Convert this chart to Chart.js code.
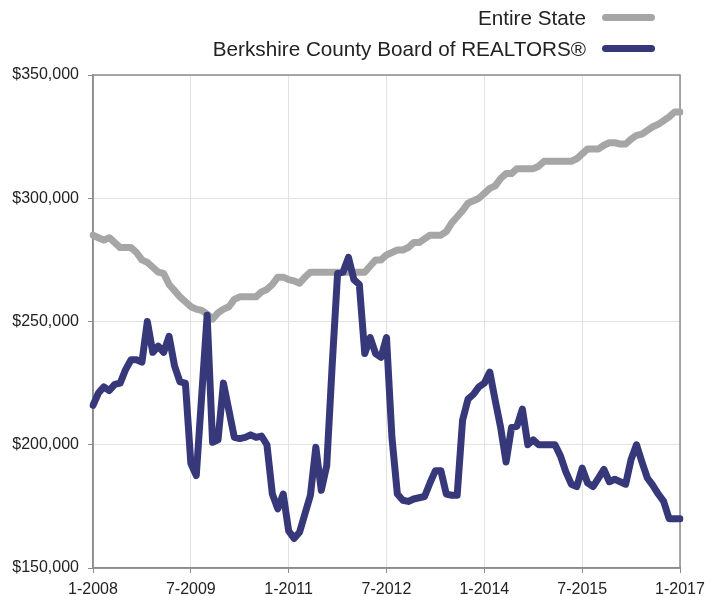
<!DOCTYPE html>
<html>
<head>
<meta charset="utf-8">
<script src="https://cdn.jsdelivr.net/npm/chart.js@4"></script>
<style>
  body { margin: 0; background: #fff; font-family: "Liberation Sans", Arial, sans-serif; }
  #wrap { position: relative; width: 722px; height: 596px; }
  .legend { position: absolute; right: 67px; top: 2px; text-align: right; }
  .legend-item { display: flex; align-items: center; justify-content: flex-end; height: 31px; font-size: 20.7px; color: #222; }
  .legend-line { display: inline-block; width: 53px; height: 7px; border-radius: 3.5px; margin-left: 16px; }
</style>
</head>
<body>
<div id="wrap">
  <canvas id="chart" width="722" height="596"></canvas>
  <div class="legend">
    <div class="legend-item">Entire State<span class="legend-line" style="background:#a6a6a6"></span></div>
    <div class="legend-item">Berkshire County Board of REALTORS®<span class="legend-line" style="background:#37387a"></span></div>
  </div>
</div>
<script>
// monthly median prices, 1-2008 .. 1-2017
const xTickLabels = ['1-2008', '7-2009', '1-2011', '7-2012', '1-2014', '7-2015', '1-2017'];

const berkshire = [
  216000, 221000, 223500, 222000, 224500, 225000, 230500, 234500, 234500, 233500,
  250000, 237500, 240000, 237500, 244000, 232000, 225500, 225000, 192500, 187500,
  220000, 252500, 201000, 202000, 225000, 214000, 203000, 202500, 203000, 204000,
  203000, 203500, 200000, 180000, 174000, 180000, 165000, 162000, 164500, 172000,
  179500, 199000, 181500, 191500, 232000, 269500, 270000, 276000, 267000, 265000,
  237000, 243500, 237000, 235500, 243500, 203000, 180000, 177500, 177000, 178000,
  178500, 179000, 184500, 189500, 189500, 180000, 179500, 179500, 210000, 218500,
  220500, 223500, 225000, 229500, 218000, 207000, 193000, 207000, 207500, 214500,
  200000, 202000, 200000, 200000, 200000, 200000, 195500, 189000, 184000, 183000,
  190500, 184500, 183000, 186500, 190000, 185000, 186000, 185000, 184000, 194000,
  200000, 193000, 186500, 183500, 180000, 177000, 170000, 170000, 170000
];

const entireState = [
  285000, 284000, 283000, 284000, 282000, 280000, 280000, 280000, 278000, 275000,
  274000, 272000, 270000, 269500, 265000, 262500, 260000, 258000, 256000, 255000,
  254500, 253000, 251000, 253500, 255000, 256000, 259000, 260000, 260000, 260000,
  260000, 262000, 263000, 265000, 268000, 268000, 267000, 266500, 265500, 268000,
  270000, 270000, 270000, 270000, 270000, 270000, 270000, 270000, 270000, 270000,
  270000, 272500, 275000, 275000, 277000, 278000, 279000, 279000, 280000, 282000,
  282000, 283500, 285000, 285000, 285000, 286500, 290000, 292500, 295000, 298000,
  299000, 300000, 302000, 304000, 305000, 308000, 310000, 310000, 312000, 312000,
  312000, 312000, 313000, 315000, 315000, 315000, 315000, 315000, 315000, 316000,
  318000, 320000, 320000, 320000, 321500, 322500, 322500, 322000, 322000, 324000,
  325500, 326000, 327500, 329000, 330000, 331500, 333000, 335000, 335000
];

const months = [];
for (let i = 0; i < berkshire.length; i++) {
  const m = i % 12 + 1;
  const y = 2008 + Math.floor(i / 12);
  months.push(m + '-' + y);
}

const STEP = 18;
const gridGray = '#e2e2e2';
const axisGray = '#8c8c8c';
const tickFont = { family: '"Liberation Sans", Arial, sans-serif', size: 16 };

const framePlugin = {
  id: 'frame',
  beforeDatasetsDraw(chart) {
    const { ctx, chartArea: a } = chart;
    ctx.save();
    ctx.strokeStyle = axisGray;
    ctx.lineWidth = 1.5;
    ctx.strokeRect(a.left, a.top, a.right - a.left, a.bottom - a.top);
    ctx.restore();
  }
};

new Chart(document.getElementById('chart'), {
  type: 'line',
  data: {
    labels: months,
    datasets: [
      {
        label: 'Berkshire County Board of REALTORS®',
        data: berkshire,
        borderColor: '#37387a',
        borderWidth: 7,
        pointRadius: 0,
        tension: 0,
        borderJoinStyle: 'round',
        borderCapStyle: 'round'
      },
      {
        label: 'Entire State',
        data: entireState,
        borderColor: '#a6a6a6',
        borderWidth: 7,
        pointRadius: 0,
        tension: 0,
        borderJoinStyle: 'round',
        borderCapStyle: 'round'
      }
    ]
  },
  options: {
    responsive: false,
    animation: false,
    layout: { padding: { top: 75, right: 42, left: 0, bottom: 0 } },
    plugins: {
      legend: { display: false },
      tooltip: { enabled: false }
    },
    scales: {
      x: {
        type: 'category',
        offset: false,
        afterFit: (s) => { s.height = 28; },
        border: { color: axisGray, width: 1.5 },
        grid: {
          color: (c) => (c.index % STEP === 0 ? gridGray : 'transparent'),
          tickColor: (c) => (c.index % STEP === 0 ? axisGray : 'transparent'),
          tickLength: 5
        },
        ticks: {
          autoSkip: false,
          maxRotation: 0,
          padding: 7,
          color: '#222',
          font: tickFont,
          callback: (v, i) => (i % STEP === 0 ? xTickLabels[i / STEP] : '')
        }
      },
      y: {
        min: 150000,
        max: 350000,
        afterFit: (s) => { s.width = 93; },
        border: { color: axisGray, width: 1.5 },
        grid: { color: gridGray, tickColor: axisGray, tickLength: 5 },
        ticks: {
          stepSize: 50000,
          padding: 9,
          color: '#222',
          font: tickFont,
          callback: (v) => '$' + v.toLocaleString('en-US')
        }
      }
    }
  },
  plugins: [framePlugin]
});
</script>
</body>
</html>
